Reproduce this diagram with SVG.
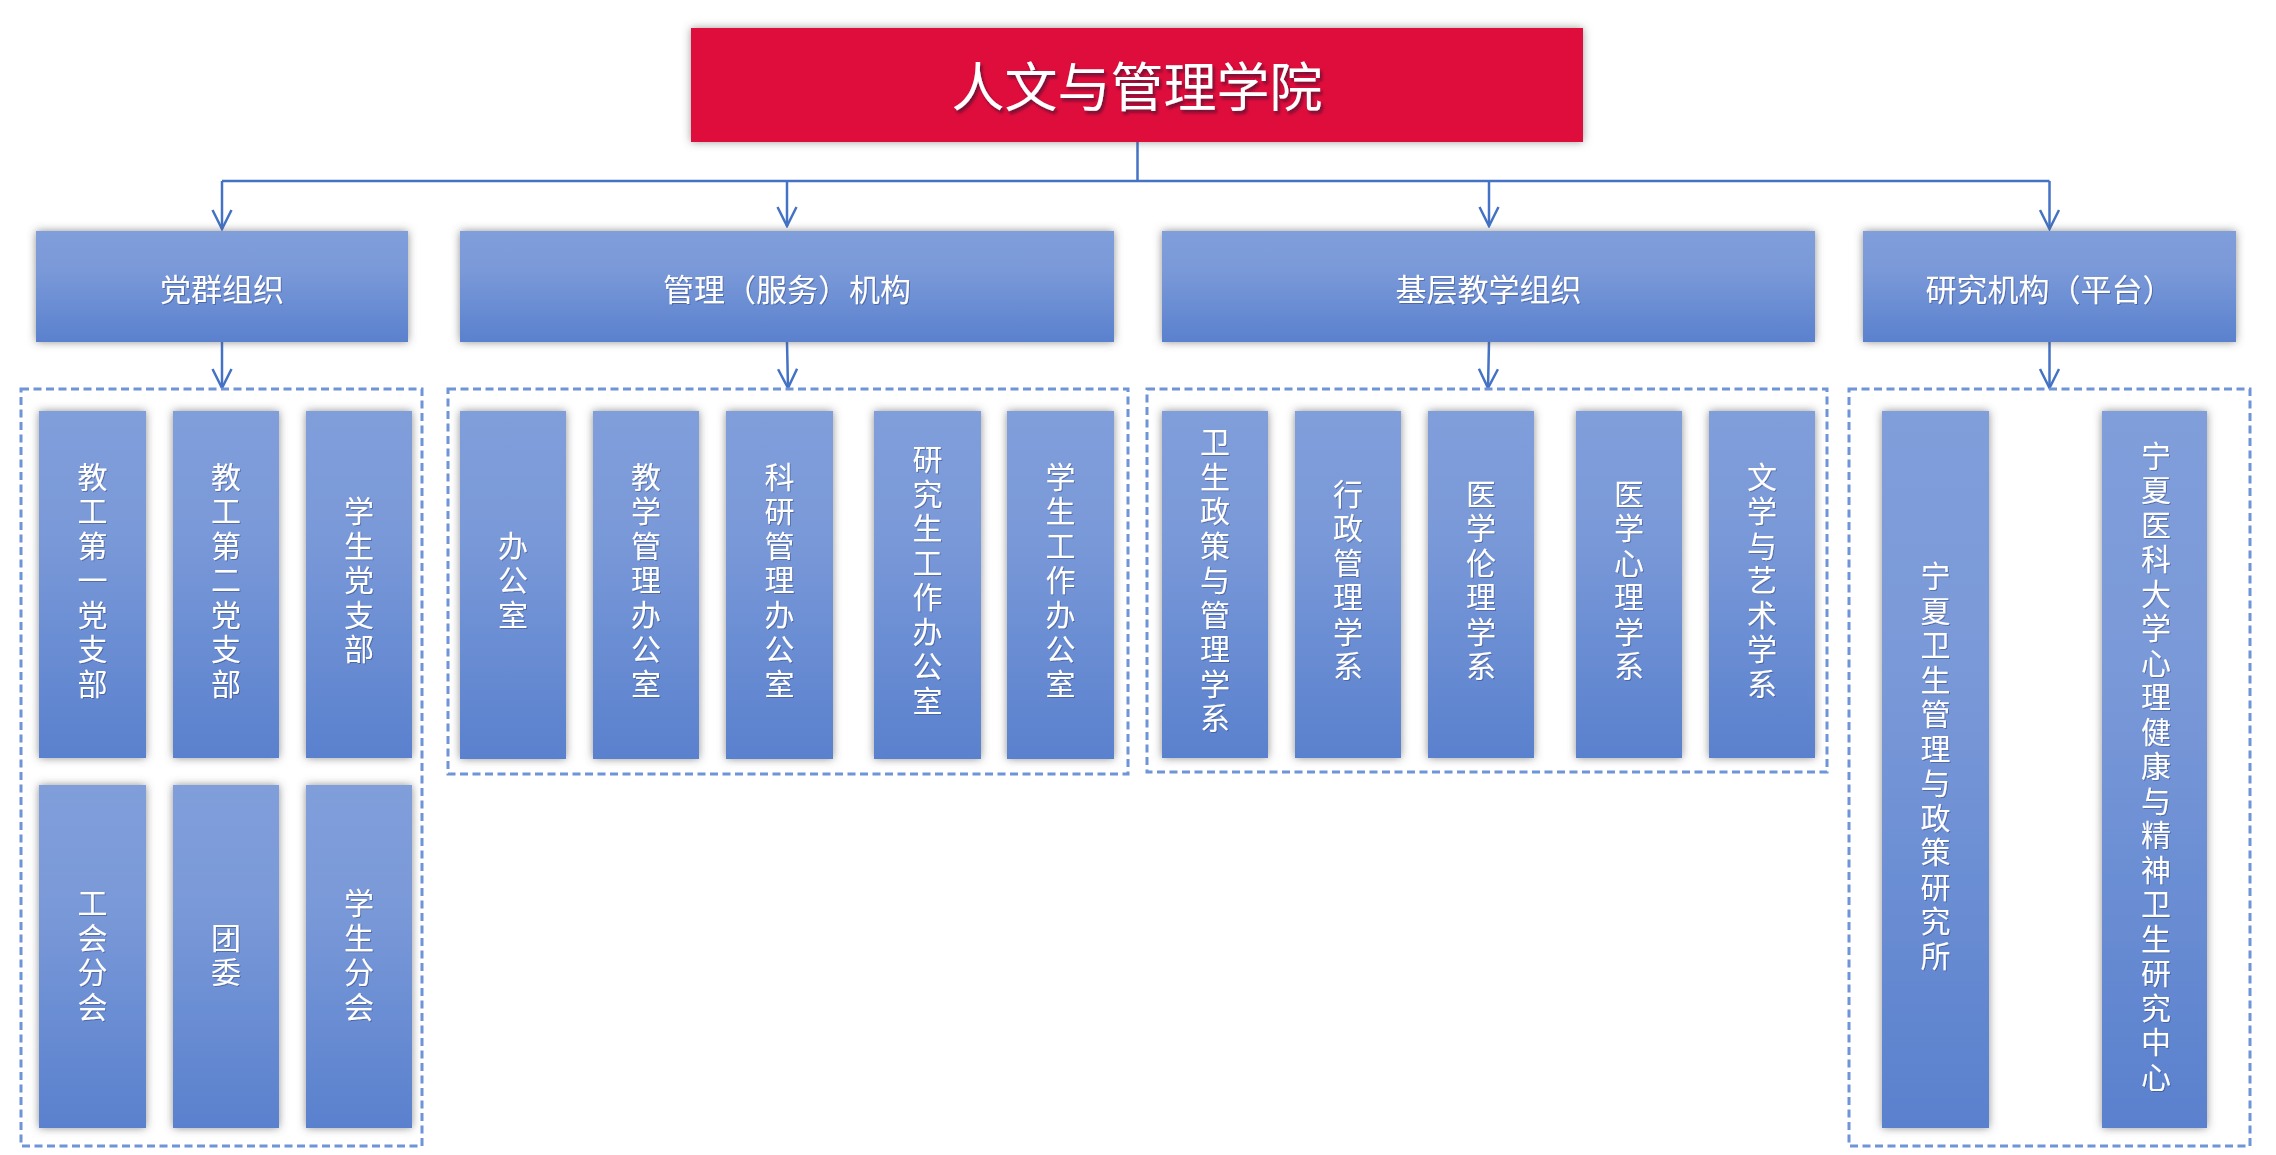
<svg xmlns="http://www.w3.org/2000/svg" width="2276" height="1155" viewBox="0 0 2276 1155">
<style>
  .box { fill: url(#blueGrad); filter: url(#shadow); }
  .lbl { fill: #ffffff; font-family: "Noto Sans CJK SC", "Noto Sans", sans-serif; font-size: 31px; text-anchor: middle; dominant-baseline: central; filter: url(#txtShadow); }
  .vt { fill: #ffffff; font-family: "Noto Sans CJK SC", "Noto Sans", sans-serif; font-size: 30px; text-anchor: middle; dominant-baseline: central; filter: url(#txtShadow); }
  .title { fill: #ffffff; font-family: "Noto Sans CJK SC", "Noto Sans", sans-serif; font-size: 53px; text-anchor: middle; dominant-baseline: central; filter: url(#titleShadow); }
  .conn { stroke: #4472C4; stroke-width: 2.5; fill: none; }
  .grp { fill: none; stroke: #7094D8; stroke-width: 3; stroke-dasharray: 8 4.5; }
</style>
<defs>
  <linearGradient id="blueGrad" x1="0" y1="0" x2="0" y2="1">
    <stop offset="0" stop-color="#809EDA"/>
    <stop offset="0.35" stop-color="#7A99D8"/>
    <stop offset="1" stop-color="#5A81CE"/>
  </linearGradient>
  <filter id="shadow" x="-20%" y="-20%" width="140%" height="140%">
    <feDropShadow dx="0" dy="0" stdDeviation="4" flood-color="#555555" flood-opacity="0.65"/>
  </filter>
  <filter id="redShadow" x="-10%" y="-20%" width="120%" height="140%">
    <feDropShadow dx="0" dy="0" stdDeviation="4" flood-color="#555555" flood-opacity="0.6"/>
  </filter>
  <filter id="titleShadow" x="-10%" y="-20%" width="120%" height="150%">
    <feDropShadow dx="2" dy="3" stdDeviation="1.5" flood-color="#4a1030" flood-opacity="0.75"/>
  </filter>
  <filter id="txtShadow" x="-20%" y="-20%" width="140%" height="140%">
    <feDropShadow dx="1" dy="1" stdDeviation="0.6" flood-color="#2a3a70" flood-opacity="0.45"/>
  </filter>
  <marker id="arrow" markerUnits="userSpaceOnUse" markerWidth="24" markerHeight="24" viewBox="-22 -12 24 24" refX="0" refY="0" orient="auto">
    <path d="M -19 -9.5 L 0 0 L -19 9.5" fill="none" stroke="#4472C4" stroke-width="2.5"/>
  </marker>
</defs>

<rect x="0" y="0" width="2276" height="1155" fill="#ffffff"/>

<!-- Connectors -->
<g id="connectors">
  <line class="conn" x1="1137.5" y1="142" x2="1137.5" y2="181"/>
  <line class="conn" x1="222" y1="181" x2="2049.5" y2="181"/>
  <line class="conn" x1="222" y1="181" x2="222" y2="229" marker-end="url(#arrow)"/>
  <line class="conn" x1="787" y1="181" x2="787" y2="226" marker-end="url(#arrow)"/>
  <line class="conn" x1="1489" y1="181" x2="1489" y2="226" marker-end="url(#arrow)"/>
  <line class="conn" x1="2049.5" y1="181" x2="2049.5" y2="229" marker-end="url(#arrow)"/>
  <line class="conn" x1="222" y1="342" x2="222" y2="388" marker-end="url(#arrow)"/>
  <line class="conn" x1="787" y1="342" x2="788" y2="388" marker-end="url(#arrow)"/>
  <line class="conn" x1="1489" y1="342" x2="1488" y2="388" marker-end="url(#arrow)"/>
  <line class="conn" x1="2049.5" y1="342" x2="2049.5" y2="388" marker-end="url(#arrow)"/>
</g>

<!-- Dashed group containers -->
<g id="containers">
  <rect class="grp" x="21" y="389" width="401" height="757"/>
  <rect class="grp" x="448" y="389" width="680" height="385"/>
  <rect class="grp" x="1147" y="389" width="680" height="383"/>
  <rect class="grp" x="1849" y="389" width="401" height="757"/>
</g>

<!-- Root -->
<g id="root">
  <rect x="691" y="28" width="892" height="114" fill="#DE0C3A" filter="url(#redShadow)"/>
  <text class="title" x="1137" y="84">人文与管理学院</text>
</g>

<!-- Level 2 -->
<g id="n-dangqun">
  <rect class="box" x="36" y="231" width="372" height="111"/>
  <text class="lbl" x="222" y="287">党群组织</text>
</g>
<g id="n-guanli">
  <rect class="box" x="460" y="231" width="654" height="111"/>
  <text class="lbl" x="787" y="287">管理（服务）机构</text>
</g>
<g id="n-jiceng">
  <rect class="box" x="1162" y="231" width="653" height="111"/>
  <text class="lbl" x="1488.5" y="287">基层教学组织</text>
</g>
<g id="n-yanjiu">
  <rect class="box" x="1863" y="231" width="373" height="111"/>
  <text class="lbl" x="2049.5" y="287">研究机构（平台）</text>
</g>

<!-- Group 1 leaves -->
<g id="l-jg1">
  <rect class="box" x="39" y="411" width="107" height="347"/>
  <text class="vt"><tspan x="92.5" y="474.5">教</tspan><tspan x="92.5" y="509">工</tspan><tspan x="92.5" y="543.5">第</tspan><tspan x="92.5" y="578">一</tspan><tspan x="92.5" y="612.5">党</tspan><tspan x="92.5" y="647">支</tspan><tspan x="92.5" y="681.5">部</tspan></text>
</g>
<g id="l-jg2">
  <rect class="box" x="173" y="411" width="106" height="347"/>
  <text class="vt"><tspan x="226" y="474.5">教</tspan><tspan x="226" y="509">工</tspan><tspan x="226" y="543.5">第</tspan><tspan x="226" y="578">二</tspan><tspan x="226" y="612.5">党</tspan><tspan x="226" y="647">支</tspan><tspan x="226" y="681.5">部</tspan></text>
</g>
<g id="l-xsdzb">
  <rect class="box" x="306" y="411" width="106" height="347"/>
  <text class="vt"><tspan x="359" y="509">学</tspan><tspan x="359" y="543.5">生</tspan><tspan x="359" y="578">党</tspan><tspan x="359" y="612.5">支</tspan><tspan x="359" y="647">部</tspan></text>
</g>
<g id="l-ghfh">
  <rect class="box" x="39" y="785" width="107" height="343"/>
  <text class="vt"><tspan x="92.5" y="901.25">工</tspan><tspan x="92.5" y="935.75">会</tspan><tspan x="92.5" y="970.25">分</tspan><tspan x="92.5" y="1004.75">会</tspan></text>
</g>
<g id="l-tw">
  <rect class="box" x="173" y="785" width="106" height="343"/>
  <text class="vt"><tspan x="226" y="935.75">团</tspan><tspan x="226" y="970.25">委</tspan></text>
</g>
<g id="l-xsfh">
  <rect class="box" x="306" y="785" width="106" height="343"/>
  <text class="vt"><tspan x="359" y="901.25">学</tspan><tspan x="359" y="935.75">生</tspan><tspan x="359" y="970.25">分</tspan><tspan x="359" y="1004.75">会</tspan></text>
</g>

<!-- Group 2 leaves -->
<g id="l-bgs">
  <rect class="box" x="460" y="411" width="106" height="348"/>
  <text class="vt"><tspan x="513" y="543.5">办</tspan><tspan x="513" y="578">公</tspan><tspan x="513" y="612.5">室</tspan></text>
</g>
<g id="l-jxgl">
  <rect class="box" x="593" y="411" width="106" height="348"/>
  <text class="vt"><tspan x="646" y="474.5">教</tspan><tspan x="646" y="509">学</tspan><tspan x="646" y="543.5">管</tspan><tspan x="646" y="578">理</tspan><tspan x="646" y="612.5">办</tspan><tspan x="646" y="647">公</tspan><tspan x="646" y="681.5">室</tspan></text>
</g>
<g id="l-kygl">
  <rect class="box" x="726" y="411" width="107" height="348"/>
  <text class="vt"><tspan x="779.5" y="474.5">科</tspan><tspan x="779.5" y="509">研</tspan><tspan x="779.5" y="543.5">管</tspan><tspan x="779.5" y="578">理</tspan><tspan x="779.5" y="612.5">办</tspan><tspan x="779.5" y="647">公</tspan><tspan x="779.5" y="681.5">室</tspan></text>
</g>
<g id="l-yjsgz">
  <rect class="box" x="874" y="411" width="107" height="348"/>
  <text class="vt"><tspan x="927.5" y="457.25">研</tspan><tspan x="927.5" y="491.75">究</tspan><tspan x="927.5" y="526.25">生</tspan><tspan x="927.5" y="560.75">工</tspan><tspan x="927.5" y="595.25">作</tspan><tspan x="927.5" y="629.75">办</tspan><tspan x="927.5" y="664.25">公</tspan><tspan x="927.5" y="698.75">室</tspan></text>
</g>
<g id="l-xsgz">
  <rect class="box" x="1007" y="411" width="107" height="348"/>
  <text class="vt"><tspan x="1060.5" y="474.5">学</tspan><tspan x="1060.5" y="509">生</tspan><tspan x="1060.5" y="543.5">工</tspan><tspan x="1060.5" y="578">作</tspan><tspan x="1060.5" y="612.5">办</tspan><tspan x="1060.5" y="647">公</tspan><tspan x="1060.5" y="681.5">室</tspan></text>
</g>

<!-- Group 3 leaves -->
<g id="l-wszc">
  <rect class="box" x="1162" y="411" width="106" height="347"/>
  <text class="vt"><tspan x="1215" y="440">卫</tspan><tspan x="1215" y="474.5">生</tspan><tspan x="1215" y="509">政</tspan><tspan x="1215" y="543.5">策</tspan><tspan x="1215" y="578">与</tspan><tspan x="1215" y="612.5">管</tspan><tspan x="1215" y="647">理</tspan><tspan x="1215" y="681.5">学</tspan><tspan x="1215" y="716">系</tspan></text>
</g>
<g id="l-xzgl">
  <rect class="box" x="1295" y="411" width="106" height="347"/>
  <text class="vt"><tspan x="1348" y="491.75">行</tspan><tspan x="1348" y="526.25">政</tspan><tspan x="1348" y="560.75">管</tspan><tspan x="1348" y="595.25">理</tspan><tspan x="1348" y="629.75">学</tspan><tspan x="1348" y="664.25">系</tspan></text>
</g>
<g id="l-yxll">
  <rect class="box" x="1428" y="411" width="106" height="347"/>
  <text class="vt"><tspan x="1481" y="491.75">医</tspan><tspan x="1481" y="526.25">学</tspan><tspan x="1481" y="560.75">伦</tspan><tspan x="1481" y="595.25">理</tspan><tspan x="1481" y="629.75">学</tspan><tspan x="1481" y="664.25">系</tspan></text>
</g>
<g id="l-yxxl">
  <rect class="box" x="1576" y="411" width="106" height="347"/>
  <text class="vt"><tspan x="1629" y="491.75">医</tspan><tspan x="1629" y="526.25">学</tspan><tspan x="1629" y="560.75">心</tspan><tspan x="1629" y="595.25">理</tspan><tspan x="1629" y="629.75">学</tspan><tspan x="1629" y="664.25">系</tspan></text>
</g>
<g id="l-wxys">
  <rect class="box" x="1709" y="411" width="106" height="347"/>
  <text class="vt"><tspan x="1762" y="474.5">文</tspan><tspan x="1762" y="509">学</tspan><tspan x="1762" y="543.5">与</tspan><tspan x="1762" y="578">艺</tspan><tspan x="1762" y="612.5">术</tspan><tspan x="1762" y="647">学</tspan><tspan x="1762" y="681.5">系</tspan></text>
</g>

<!-- Group 4 leaves -->
<g id="l-nxws">
  <rect class="box" x="1882" y="411" width="107" height="717"/>
  <text class="vt"><tspan x="1935.5" y="574.25">宁</tspan><tspan x="1935.5" y="608.75">夏</tspan><tspan x="1935.5" y="643.25">卫</tspan><tspan x="1935.5" y="677.75">生</tspan><tspan x="1935.5" y="712.25">管</tspan><tspan x="1935.5" y="746.75">理</tspan><tspan x="1935.5" y="781.25">与</tspan><tspan x="1935.5" y="815.75">政</tspan><tspan x="1935.5" y="850.25">策</tspan><tspan x="1935.5" y="884.75">研</tspan><tspan x="1935.5" y="919.25">究</tspan><tspan x="1935.5" y="953.75">所</tspan></text>
</g>
<g id="l-nxyk">
  <rect class="box" x="2102" y="411" width="105" height="717"/>
  <text class="vt"><tspan x="2156" y="453.5">宁</tspan><tspan x="2156" y="488">夏</tspan><tspan x="2156" y="522.5">医</tspan><tspan x="2156" y="557">科</tspan><tspan x="2156" y="591.5">大</tspan><tspan x="2156" y="626">学</tspan><tspan x="2156" y="660.5">心</tspan><tspan x="2156" y="695">理</tspan><tspan x="2156" y="729.5">健</tspan><tspan x="2156" y="764">康</tspan><tspan x="2156" y="798.5">与</tspan><tspan x="2156" y="833">精</tspan><tspan x="2156" y="867.5">神</tspan><tspan x="2156" y="902">卫</tspan><tspan x="2156" y="936.5">生</tspan><tspan x="2156" y="971">研</tspan><tspan x="2156" y="1005.5">究</tspan><tspan x="2156" y="1040">中</tspan><tspan x="2156" y="1074.5">心</tspan></text>
</g>
</svg>
